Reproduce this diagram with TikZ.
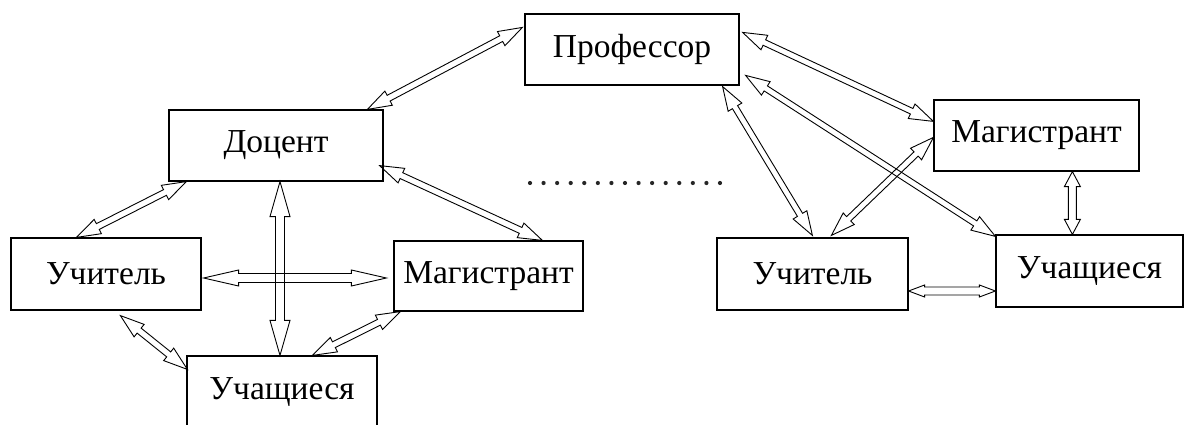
\documentclass[tikz,border=0pt]{standalone}
\usepackage{fontspec}
\setmainfont{Liberation Serif}
\usetikzlibrary{calc}
\tikzset{
  box/.style={draw, line width=1.2pt, rectangle, inner sep=0pt, font=\fontsize{33.5}{36}\selectfont},
  conn/.style={draw, line width=0.9pt, line join=miter},
  dotmark/.style={fill=black!85, circle, inner sep=0pt, minimum size=4.2pt}
}
% #1 start, #2 end, #3 head length, #4 head half width, #5 shaft half width
\newcommand{\dblarrow}[5]{%
  \draw[conn] (#1) -- ($(#1)!#3!(#2)!#4!90:(#2)$) -- ($(#1)!#3!(#2)!#5!90:(#2)$)
    -- ($(#2)!#3!(#1)!#5!-90:(#1)$) -- ($(#2)!#3!(#1)!#4!-90:(#1)$) -- (#2)
    -- ($(#2)!#3!(#1)!#4!90:(#1)$) -- ($(#2)!#3!(#1)!#5!90:(#1)$)
    -- ($(#1)!#3!(#2)!#5!-90:(#2)$) -- ($(#1)!#3!(#2)!#4!-90:(#2)$) -- cycle;}
\begin{document}
\begin{tikzpicture}[x=1pt, y=-1pt]
\clip (0,0) rectangle (1184,425);
\fill[white] (0,0) rectangle (1184,425);

% boxes
\node[box, minimum width=214pt, minimum height=71pt] (prof) at (632,49.5) {Профессор};
\node[box, minimum width=214pt, minimum height=71pt] (doc) at (276,145.5) {Доцент};
\node[box, minimum width=190pt, minimum height=72pt] (uchL) at (106,274) {Учитель};
\node[box, minimum width=189pt, minimum height=70pt] (magL) at (488.5,276) {Магистрант};
\node[box, minimum width=190pt, minimum height=72pt] (stL) at (282,392) {Учащиеся};
\node[box, minimum width=205pt, minimum height=71pt] (magR) at (1036.5,135.5) {Магистрант};
\node[box, minimum width=191pt, minimum height=72pt] (uchR) at (812.5,274) {Учитель};
\node[box, minimum width=187pt, minimum height=72pt] (stR) at (1089.5,271) {Учащиеся};

% connector end points on the box borders
\coordinate (doc-prof) at ($(doc.north west)+(199,0)$);
\coordinate (prof-doc) at ($(prof.north west)+(-2,14)$);
\coordinate (uchL-doc) at ($(uchL.north west)+(66,0)$);
\coordinate (doc-uchL) at ($(doc.south west)+(18,0)$);
\coordinate (doc-magL) at ($(doc.south east)+(-4,-16)$);
\coordinate (magL-doc) at ($(magL.north west)+(149,0)$);
\coordinate (uchL-magL) at ($(uchL.east)+(2,4)$);
\coordinate (magL-uchL) at ($(magL.west)+(-7,2)$);
\coordinate (doc-stL) at ($(doc.south)+(4,0)$);
\coordinate (stL-doc) at ($(stL.north)+(-2,0)$);
\coordinate (uchL-stL) at ($(uchL.south west)+(110,5)$);
\coordinate (stL-uchL) at ($(stL.north west)+(1,14)$);
\coordinate (stL-magL) at ($(stL.north west)+(126,0)$);
\coordinate (magL-stL) at ($(magL.south west)+(7,0)$);
\coordinate (prof-magR) at ($(prof.north east)+(3,19)$);
\coordinate (magR-prof) at ($(magR.north west)+(0,22)$);
\coordinate (prof-stR) at ($(prof.north east)+(6,62)$);
\coordinate (stR-prof) at ($(stR.north west)+(0,2)$);
\coordinate (prof-uchR) at ($(prof.south east)+(-17,1)$);
\coordinate (uchR-prof) at ($(uchR.north west)+(96,-2)$);
\coordinate (uchR-magR) at ($(uchR.north west)+(115,-2)$);
\coordinate (magR-uchR) at ($(magR.north west)+(0,38)$);
\coordinate (magR-stR) at ($(magR.south west)+(139,0)$);
\coordinate (stR-magR) at ($(stR.north west)+(77,0)$);
\coordinate (uchR-stR) at ($(uchR.east)+(0,17)$);
\coordinate (stR-uchR) at ($(stR.west)+(0,20)$);

% connectors (hollow double arrows)
\dblarrow{doc-prof}{prof-doc}{24pt}{8pt}{3.2pt}
\dblarrow{uchL-doc}{doc-uchL}{24pt}{8pt}{3.2pt}
\dblarrow{doc-magL}{magL-doc}{24pt}{8pt}{3.2pt}
\dblarrow{uchL-magL}{magL-uchL}{35pt}{8pt}{4.5pt}
\dblarrow{doc-stL}{stL-doc}{35pt}{10pt}{4.5pt}
\dblarrow{uchL-stL}{stL-uchL}{24pt}{8pt}{3.2pt}
\dblarrow{stL-magL}{magL-stL}{24pt}{8pt}{3.2pt}
\dblarrow{prof-magR}{magR-prof}{24pt}{8pt}{3pt}
\dblarrow{prof-stR}{stR-prof}{24pt}{8pt}{3pt}
\dblarrow{prof-uchR}{uchR-prof}{24pt}{8pt}{3pt}
\dblarrow{uchR-magR}{magR-uchR}{24pt}{8pt}{3pt}
\dblarrow{magR-stR}{stR-magR}{15pt}{8pt}{4pt}
\dblarrow{uchR-stR}{stR-uchR}{16pt}{6pt}{4pt}

% dotted ellipsis
\foreach \i in {0,...,14} {
  \node[dotmark] (dot\i) at (530+13.57*\i,183) {};
}
\end{tikzpicture}
\end{document}
